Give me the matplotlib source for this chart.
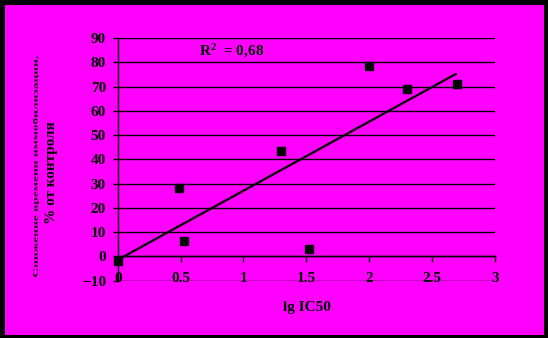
import numpy as np
import matplotlib
matplotlib.use("Agg")
import matplotlib.pyplot as plt
from matplotlib.patches import Rectangle
from matplotlib.patheffects import AbstractPathEffect
from matplotlib.transforms import Affine2D

# ---- data ----
lg_ic50 = [0.0, 0.49, 0.525, 1.30, 1.52, 2.00, 2.30, 2.695]
reduction = [-1.9, 28.0, 6.2, 43.3, 3.0, 78.3, 69.1, 71.0]
x_ticks = [0, 0.5, 1, 1.5, 2, 2.5, 3]
x_tick_labels = ["0", "0.5", "1", "1.5", "2", "2.5", "3"]
y_ticks = [-10, 0, 10, 20, 30, 40, 50, 60, 70, 80, 90]
r2_label = "R$^{2}$  = 0,68"
x_label = "lg IC50"
y_label_1 = "Снижение времени иммобилизации,"
y_label_2 = "% от контроля"

W, H = 548, 338
MAG = "#FF00FF"
FONT = "Liberation Serif"

plt.rcParams["font.family"] = [FONT, "DejaVu Serif"]
plt.rcParams["mathtext.fontset"] = "custom"
plt.rcParams["mathtext.rm"] = FONT
plt.rcParams["mathtext.bf"] = FONT + ":bold"
plt.rcParams["mathtext.default"] = "bf"

fig = plt.figure(figsize=(W / 100, H / 100), dpi=100, facecolor="black")

# magenta chart area inside black border
fig.patches.append(Rectangle((5 / W, 3 / H), 539 / W, 330 / H,
                             transform=fig.transFigure, facecolor=MAG,
                             edgecolor="none", zorder=-10))


def px_box(l, t, r, b):
    return [l / W, 1 - b / H, (r - l) / W, (b - t) / H]


ax = fig.add_axes(px_box(117.7, 38.0, 495.0, 280.6))
ax.set_zorder(1)
ax.set_facecolor(MAG)
ax.set_xlim(0, 3)
ax.set_ylim(-10, 90)

for s in ["top", "right"]:
    ax.spines[s].set_visible(False)
ax.spines["left"].set_color("black")
ax.spines["left"].set_linewidth(1.0)
ax.spines["bottom"].set_position(("data", 0))
ax.spines["bottom"].set_color("black")
ax.spines["bottom"].set_linewidth(1.0)

ax.set_yticks(y_ticks)
ax.set_xticks(x_ticks)
ax.set_xticklabels(x_tick_labels)
ax.yaxis.grid(True, color="black", linewidth=1.0)
ax.set_axisbelow(True)

ax.tick_params(axis="x", direction="out", length=4, width=1, pad=7,
               labelsize=11, colors="black")
ax.tick_params(axis="y", direction="out", length=3.5, width=1, pad=5,
               labelsize=11, colors="black")
for lab in ax.get_xticklabels() + ax.get_yticklabels():
    lab.set_fontweight("bold")

# scatter points
ax.plot(lg_ic50, reduction, linestyle="none", marker="s", markersize=5.8,
        color="black", zorder=4, clip_on=False)

# linear trendline (least squares through the points)
xs = np.array(lg_ic50)
ys = np.array(reduction)
k, b0 = np.polyfit(xs, ys, 1)
xl = np.array([xs.min(), xs.max()])
ax.plot(xl, k * xl + b0, color="black", linewidth=1.6, zorder=3,
        solid_capstyle="butt")

ax.text(0.65, 84.5, r2_label, fontsize=11, fontweight="bold",
        color="black", ha="left", va="center")

fig.text(306.7 / W, 1 - 308 / H, x_label, fontsize=11, fontweight="bold",
         ha="center", va="center", color="black")


class Squash(AbstractPathEffect):
    def __init__(self, sy):
        super().__init__()
        self.sy = sy

    def draw_path(self, renderer, gc, tpath, affine, rgbFace=None):
        renderer.draw_path(gc, tpath, Affine2D().scale(1, self.sy) + affine,
                           rgbFace)


fig.text(37.5 / W, 1 - 166.5 / H, y_label_1, fontsize=9.7, fontweight="bold",
         rotation=90, ha="center", va="baseline", rotation_mode="anchor",
         color="black", path_effects=[Squash(0.5)])
fig.text(52 / W, 1 - 172.5 / H, y_label_2, fontsize=11, fontweight="bold",
         rotation=90, ha="center", va="center", color="black")

fig.savefig("out.png", dpi=100, facecolor=fig.get_facecolor())
